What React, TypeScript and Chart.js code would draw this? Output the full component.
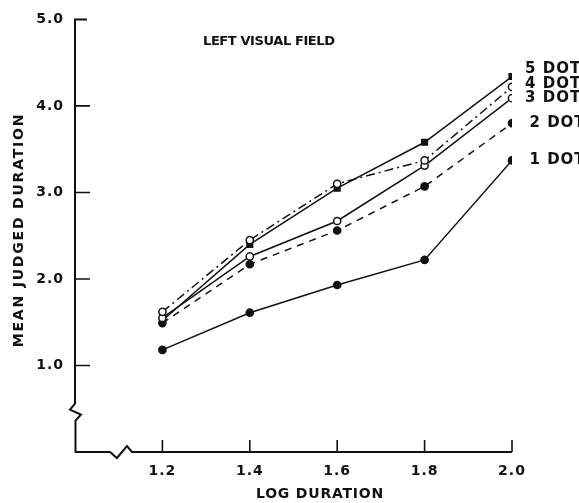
import React, { useEffect, useRef } from "react";
import { Chart, registerables } from "chart.js";

Chart.register(...registerables);

const xValues = [1.2, 1.4, 1.6, 1.8, 2.0];
const xTicks = [1.2, 1.4, 1.6, 1.8, 2.0];
const yTicks = [1.0, 2.0, 3.0, 4.0, 5.0];

const seriesNames = ["5 DOT", "4 DOT", "3 DOT", "2 DOT", "1 DOT"];
const dot5 = [1.52, 2.4, 3.05, 3.58, 4.34];
const dot4 = [1.62, 2.45, 3.1, 3.37, 4.22];
const dot3 = [1.55, 2.26, 2.67, 3.31, 4.09];
const dot2 = [1.49, 2.17, 2.56, 3.07, 3.8];
const dot1 = [1.18, 1.61, 1.93, 2.22, 3.37];
const labelY = [4.43, 4.25, 4.09, 3.8, 3.37];
const labelX = [2.03, 2.03, 2.03, 2.04, 2.04];

const INK = "#111111";
const FONT = '"DejaVu Sans", sans-serif';

const pairs = (ys: number[]) => xValues.map((x, i) => ({ x, y: ys[i] }));

const overlay = {
  id: "overlay",
  beforeDraw(chart: any) {
    chart.ctx.letterSpacing = "1px";
  },
  afterDraw(chart: any) {
    const ctx = chart.ctx as CanvasRenderingContext2D;
    const xs = chart.scales.x;
    const ys = chart.scales.y;
    const X = (v: number) => xs.getPixelForValue(v);
    const Y = (v: number) => ys.getPixelForValue(v);
    ctx.save();
    ctx.strokeStyle = INK;
    ctx.lineWidth = 2;
    ctx.lineJoin = "miter";
    const left = X(1.0);
    const bottom = Y(0);
    const top = Y(5);
    const right = X(2.0);
    const yb = Y(0.56);
    const xb = X(1.08);
    ctx.beginPath();
    ctx.moveTo(left + 12, top);
    ctx.lineTo(left, top);
    ctx.lineTo(left, yb);
    ctx.lineTo(left - 5, yb + 6);
    ctx.lineTo(left + 6, yb + 11);
    ctx.lineTo(left + 0.5, yb + 17);
    ctx.lineTo(left + 0.5, bottom);
    ctx.lineTo(xb, bottom);
    ctx.lineTo(xb + 7, bottom + 6);
    ctx.lineTo(xb + 17, bottom - 6);
    ctx.lineTo(xb + 22, bottom);
    ctx.lineTo(right, bottom);
    ctx.stroke();
    ctx.lineWidth = 1.6;
    ctx.beginPath();
    for (const t of yTicks) {
      if (t === 5) continue;
      ctx.moveTo(left, Y(t));
      ctx.lineTo(left + 15, Y(t));
    }
    for (const t of xTicks) {
      ctx.moveTo(X(t), bottom);
      ctx.lineTo(X(t), bottom - 12);
    }
    ctx.stroke();

    ctx.fillStyle = INK;
    ctx.textBaseline = "middle";
    // plot title
    ctx.font = `bold 13px ${FONT}`;
    ctx.letterSpacing = "-0.4px";
    ctx.textAlign = "left";
    ctx.fillText("LEFT VISUAL FIELD", 203, 42);
    // series labels
    ctx.font = `bold 15px ${FONT}`;
    ctx.letterSpacing = "1px";
    seriesNames.forEach((n, i) => {
      ctx.fillText(n, X(labelX[i]), Y(labelY[i]));
    });
    // x axis title
    ctx.font = `bold 14px ${FONT}`;
    ctx.letterSpacing = "0.8px";
    ctx.textAlign = "center";
    ctx.fillText("LOG DURATION", 320, 494);
    // y axis title
    ctx.save();
    ctx.translate(19, 230);
    ctx.rotate(-Math.PI / 2);
    ctx.letterSpacing = "1.8px";
    ctx.fillText("MEAN JUDGED DURATION", 0, 0);
    ctx.restore();
    ctx.restore();
  },
};

export default function App() {
  const ref = useRef<HTMLCanvasElement | null>(null);
  useEffect(() => {
    document.body.style.margin = "0";
    if (!ref.current) return;
    const common = {
      borderColor: INK,
      borderWidth: 1.5,
      pointBorderColor: INK,
      pointBorderWidth: 1.5,
      pointRadius: 3.6,
      pointHoverRadius: 3.6,
      fill: false,
      tension: 0,
    };
    const chart = new Chart(ref.current, {
      type: "line",
      data: {
        datasets: [
          { ...common, label: seriesNames[1], data: pairs(dot4), borderDash: [9, 4, 2, 4], pointStyle: "circle", pointBackgroundColor: "#ffffff" },
          { ...common, label: seriesNames[2], data: pairs(dot3), pointStyle: "circle", pointBackgroundColor: "#ffffff" },
          { ...common, label: seriesNames[0], data: pairs(dot5), pointStyle: "rect", pointRadius: 4, pointBackgroundColor: INK },
          { ...common, label: seriesNames[3], data: pairs(dot2), borderDash: [7, 6], pointStyle: "circle", pointBackgroundColor: INK },
          { ...common, label: seriesNames[4], data: pairs(dot1), pointStyle: "circle", pointBackgroundColor: INK },
        ] as any,
      },
      options: {
        animation: false,
        responsive: true,
        maintainAspectRatio: false,
        layout: { padding: { top: 15, right: 67, left: 0, bottom: 0 } },
        plugins: { legend: { display: false }, tooltip: { enabled: false }, title: { display: false } },
        scales: {
          x: {
            type: "linear",
            min: 1.0,
            max: 2.0,
            grid: { display: false, drawTicks: false },
            border: { display: false },
            afterBuildTicks: (s: any) => {
              s.ticks = xTicks.map((v) => ({ value: v }));
            },
            afterFit: (s: any) => {
              s.height = 51;
            },
            ticks: {
              color: INK,
              font: { family: FONT, size: 14, weight: "bold" },
              padding: 11,
              maxRotation: 0,
              autoSkip: false,
              callback: (v: any) => Number(v).toFixed(1),
            },
          },
          y: {
            type: "linear",
            min: 0,
            max: 5,
            grid: { display: false, drawTicks: false },
            border: { display: false },
            afterBuildTicks: (s: any) => {
              s.ticks = yTicks.map((v) => ({ value: v }));
            },
            afterFit: (s: any) => {
              s.width = 75;
            },
            ticks: {
              color: INK,
              font: { family: FONT, size: 14, weight: "bold" },
              padding: 11,
              autoSkip: false,
              callback: (v: any) => Number(v).toFixed(1),
            },
          },
        },
      } as any,
      plugins: [overlay],
    });
    return () => chart.destroy();
  }, []);
  return (
    <div style={{ width: 579, height: 503, position: "relative", background: "#fff" }}>
      <canvas ref={ref} />
    </div>
  );
}
